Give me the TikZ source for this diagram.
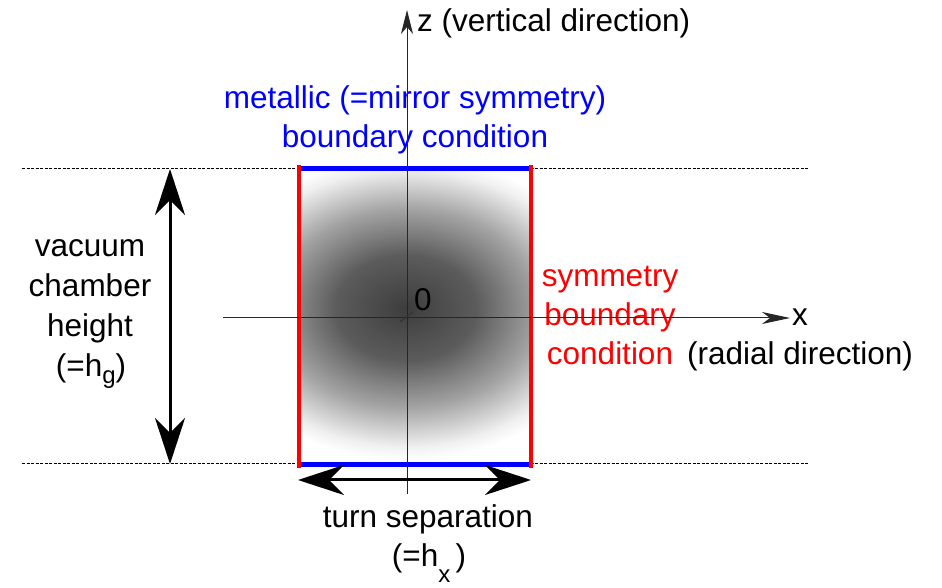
\documentclass[tikz,border=0pt]{standalone}
\usepackage{fontspec}
\setmainfont{Liberation Sans}
\usetikzlibrary{arrows.meta}
\definecolor{bcblue}{RGB}{0,0,255}
\definecolor{bcred}{RGB}{255,0,0}
\pgfdeclareradialshading{chambershade}{\pgfpoint{0bp}{0bp}}{color(0bp)=(black!76); color(8bp)=(black!64); color(15bp)=(black!36); color(21bp)=(black!6); color(23bp)=(white); color(50bp)=(white)}
\begin{document}
\begin{tikzpicture}[x=1pt,y=1pt,
  lbl/.style={inner sep=0pt, font=\fontsize{31.5}{39}\selectfont},
  guide/.style={line width=1pt, dash pattern=on 3pt off 1.5pt},
  axis/.style={line width=1pt, black!85},
  bigarrow/.style={line width=3pt, {Stealth[length=46pt,width=30pt,inset=15pt]}-{Stealth[length=46pt,width=30pt,inset=15pt]}},
  bcb/.style={line width=5pt, bcblue},
  bcr/.style={line width=4pt, bcred}]
\useasboundingbox (0,0) rectangle (942,588);
% shading
\begin{scope}
  \clip (299,123) rectangle (531,419);
  \shade[shading=chambershade] (186,115) rectangle (626,445);
\end{scope}
% coordinates
\coordinate (gTl) at (22,419); \coordinate (gTr) at (808,419);
\coordinate (gBl) at (22,124); \coordinate (gBr) at (808,124);
\coordinate (bTL) at (299,419); \coordinate (bTR) at (531,419);
\coordinate (bBL) at (299,123); \coordinate (bBR) at (531,123);
\coordinate (rLt) at (299,423); \coordinate (rLb) at (299,120);
\coordinate (rRt) at (531,423); \coordinate (rRb) at (531,120);
\coordinate (zB) at (407,94); \coordinate (zT) at (407,578);
\coordinate (xL) at (223,270); \coordinate (xR) at (790,270);
\coordinate (oA) at (400,266); \coordinate (oB) at (413,276);
\coordinate (hT) at (170,419); \coordinate (hB) at (170,124);
\coordinate (wL) at (298,108); \coordinate (wR) at (531,108);
% dotted guides
\draw[guide] (gTl) -- (gTr);
\draw[guide] (gBl) -- (gBr);
% boundaries
\draw[bcb] (bTL) -- (bTR);
\draw[bcb] (bBL) -- (bBR);
\draw[bcr] (rLt) -- (rLb);
\draw[bcr] (rRt) -- (rRb);
% labels
\node[lbl, anchor=base west] (zlab) at (417,556) {z (vertical direction)};
\node[lbl, anchor=base, text=bcblue] (met1) at (415,479) {metallic (=mirror symmetry)};
\node[lbl, anchor=base, text=bcblue] (met2) at (415,440) {boundary condition};
\node[lbl, anchor=base, text=bcred] (sym1) at (610,301) {symmetry};
\node[lbl, anchor=base, text=bcred] (sym2) at (610,262) {boundary};
\node[lbl, anchor=base, text=bcred] (sym3) at (610,223) {condition};
\node[lbl, anchor=base west] (xlab) at (792,262) {x};
\node[lbl, anchor=base west] (rad) at (687,223) {(radial direction)};
\node[lbl, anchor=base west] (orig) at (414,277) {0};
\node[lbl, anchor=base] (vac1) at (90,331) {vacuum};
\node[lbl, anchor=base] (vac2) at (90,291) {chamber};
\node[lbl, anchor=base] (vac3) at (90,251) {height};
\node[lbl, anchor=base] (vac4) at (91,211) {(=h\raisebox{-7pt}{\fontsize{24}{24}\selectfont g})};
\node[lbl, anchor=base] (turn1) at (428,60) {turn separation};
\node[lbl, anchor=base] (turn2) at (429,21) {(=h\raisebox{-16pt}{\fontsize{24}{24}\selectfont x}\,)};
% axes
\draw[axis, -{Stealth[length=24pt,width=12pt,inset=7pt]}] (zB) -- (zT);
\draw[axis, -{Stealth[length=28pt,width=12pt,inset=8pt]}] (xL) -- (xR);
\draw[line width=1pt, black!80] (oA) -- (oB);
% dimension arrows
\draw[bigarrow] (hT) -- (hB);
\draw[bigarrow] (wL) -- (wR);
\end{tikzpicture}
\end{document}
